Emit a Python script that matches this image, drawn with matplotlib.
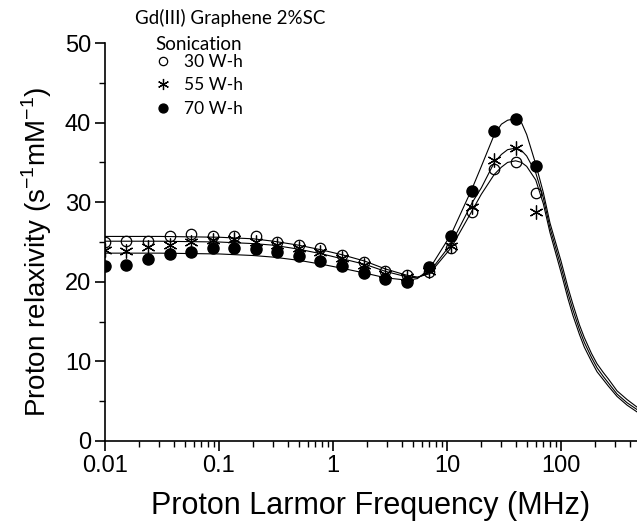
import matplotlib
matplotlib.use("Agg")
import matplotlib.pyplot as plt
from matplotlib.ticker import LogLocator, NullFormatter, MultipleLocator, FuncFormatter

plt.rcParams['font.family'] = ['Liberation Sans', 'DejaVu Sans']

# measured NMRD points (MHz)
freq = [0.01, 0.0153, 0.0238, 0.0372, 0.0566, 0.0886, 0.135, 0.211, 0.32, 0.50,
        0.77, 1.20, 1.87, 2.85, 4.45, 6.96, 10.9, 16.7, 25.9, 40.4, 60.0]
r1_30 = [25.0, 25.1, 25.1, 25.7, 26.0, 25.7, 25.8, 25.7, 25.0, 24.6,
         24.3, 23.4, 22.5, 21.4, 20.9, 21.2, 24.3, 28.8, 34.2, 35.1, 31.1]
r1_55 = [24.0, 23.9, 24.4, 24.6, 25.0, 25.3, 25.4, 25.0, 24.6, 24.2,
         23.8, 23.0, 22.1, 21.0, 20.6, 21.3, 24.5, 29.4, 35.3, 36.8, 28.8]
r1_70 = [22.0, 22.1, 22.9, 23.5, 23.7, 24.3, 24.3, 24.1, 23.8, 23.2,
         22.6, 22.0, 21.1, 20.4, 20.0, 21.9, 25.8, 31.4, 38.9, 40.4, 34.6]

# fitted curves
fit_f = [0.01, 0.03, 0.1, 0.2, 0.3, 0.5, 0.8, 1.2, 1.9, 2.9, 4.5, 5.5, 7.0,
         10.9, 16.7, 20.0, 26.0, 30.0, 34.0, 40.0, 45.0, 50.0, 60.0, 70.0,
         80.0, 100.0, 115.0, 127.0, 145.0, 160.0, 185.0, 207.0, 235.0, 260.0,
         310.0, 380.0, 470.0]
fit_30 = [25.7, 25.7, 25.6, 25.4, 25.1, 24.6, 24.0, 23.4, 22.6, 21.6, 20.8, 20.6, 21.0,
          24.3, 29.0, 31.0, 33.5, 34.4, 35.0, 35.2, 35.0, 34.5, 32.8, 29.8,
          26.2, 21.2, 17.9, 15.8, 13.4, 11.8, 10.0, 8.7, 7.7, 6.9,
          5.6, 4.5, 3.6]
fit_55 = [25.1, 25.1, 25.0, 24.8, 24.6, 24.1, 23.5, 22.9, 22.2, 21.3, 20.6, 20.5, 21.2,
          24.8, 30.0, 31.8, 35.0, 36.0, 36.6, 36.8, 36.5, 35.8, 33.7, 30.5,
          26.8, 21.9, 18.6, 16.5, 14.0, 12.4, 10.5, 9.2, 8.1, 7.3,
          5.9, 4.8, 3.9]
fit_70 = [23.6, 23.6, 23.5, 23.3, 23.1, 22.7, 22.2, 21.7, 21.1, 20.5, 20.2, 20.4, 21.6,
          26.0, 31.8, 34.5, 38.5, 39.8, 40.3, 40.5, 40.0, 38.5, 34.8, 31.2,
          27.4, 22.6, 19.3, 17.2, 14.6, 13.0, 11.0, 9.7, 8.6, 7.8,
          6.3, 5.2, 4.2]

labels = ['30 W-h', '55 W-h', '70 W-h']

fig = plt.figure(figsize=(6.37, 5.31), dpi=100)
ax = fig.add_axes([0.1648, 0.1695, 0.8352, 0.7495])

for fy in (fit_30, fit_55, fit_70):
    ax.plot(fit_f, fy, color='black', lw=0.8, zorder=2)

h1, = ax.plot(freq, r1_30, ls='none', marker='o', ms=7.5, mfc='none', mec='black', mew=0.9, zorder=3)
h2, = ax.plot(freq, r1_55, ls='none', marker=(6, 2, 0), ms=10, mec='black', mew=0.9, zorder=3)
h3, = ax.plot(freq, r1_70, ls='none', marker='o', ms=8, mfc='black', mec='black', zorder=3)

ax.set_xscale('log')
ax.set_xlim(0.01, 464)
ax.set_ylim(0, 50)

ax.spines['top'].set_visible(False)
ax.spines['right'].set_visible(False)
ax.spines['left'].set_linewidth(1.2)
ax.spines['bottom'].set_linewidth(1.2)

ax.xaxis.set_major_locator(LogLocator(base=10, numticks=10))
ax.xaxis.set_minor_locator(LogLocator(base=10, subs=range(2, 10), numticks=20))
ax.xaxis.set_minor_formatter(NullFormatter())
ax.xaxis.set_major_formatter(FuncFormatter(lambda v, p: '%g' % v))
ax.yaxis.set_major_locator(MultipleLocator(10))
ax.yaxis.set_minor_locator(MultipleLocator(5))

ax.tick_params(which='major', direction='out', length=7, width=1.2, labelsize=17, pad=3)
ax.tick_params(which='minor', direction='out', length=4, width=1.0)

ax.set_xlabel('Proton Larmor Frequency (MHz)', fontsize=22, labelpad=10)
ax.set_ylabel(r'Proton relaxivity (s$^{\mathregular{-1}}$mM$^{\mathregular{-1}}$)', fontsize=20)
ax.yaxis.set_label_coords(-0.095, 0.475)

fig.text(135 / 637, 1 - 18 / 531, 'Gd(III) Graphene 2%SC', fontsize=13.5, family=['Lato', 'DejaVu Sans'],
         ha='left', va='center')
fig.text(155 / 637, 1 - 44 / 531, 'Sonication', fontsize=13.5, family=['Lato', 'DejaVu Sans'],
         ha='left', va='center')

leg = fig.legend([h1, h2, h3], labels, loc='upper left', bbox_to_anchor=(154 / 637, 1 - 54 / 531),
                 frameon=False, prop={'family': ['Lato', 'DejaVu Sans'], 'size': 12.5},
                 handlelength=1.0, handletextpad=0.7, labelspacing=0.42, borderpad=0, borderaxespad=0,
                 markerscale=0.8)

fig.savefig('out.png', dpi=100)
